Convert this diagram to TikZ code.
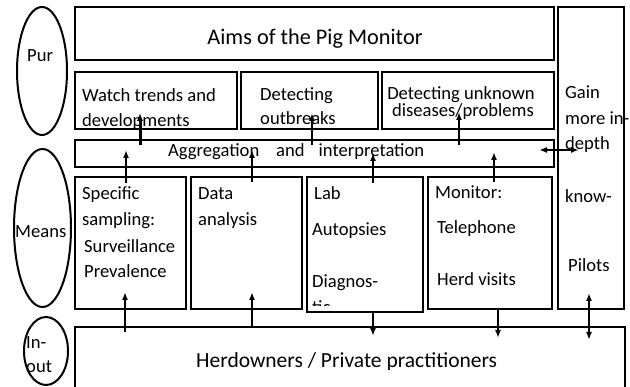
\documentclass[tikz,border=0pt]{standalone}
\usepackage{fontspec}
\setmainfont{Carlito}
\usetikzlibrary{arrows.meta,shapes.geometric}
\begin{document}
\begin{tikzpicture}[x=1pt,y=-1pt,
  box/.style={draw, line width=2.7pt, inner sep=0pt, outer sep=0pt},
  oval/.style={draw, ellipse, line width=2pt, inner sep=0pt, outer sep=0pt},
  txt/.style={inner sep=0pt, anchor=base west, font=\fontsize{18.6}{22}\selectfont},
  ctxt/.style={txt, anchor=base},
  big/.style={inner sep=0pt, anchor=base west, font=\fontsize{21.5}{26}\selectfont},
  arr/.style={line width=1.8pt, -{Latex[length=8pt,width=6pt]}},
  thickarr/.style={line width=3pt, -{Latex[length=8pt,width=6.5pt]}},
  darr/.style={line width=1.8pt, {Latex[length=8pt,width=6pt]}-{Latex[length=8pt,width=6pt]}}]
\useasboundingbox (0,0) rectangle (630,387);
\clip (0,0) rectangle (630,387);

% ---------- texts ----------
\node[big, anchor=base, font=\fontsize{22.3}{26}\selectfont] (aimst) at (315,45) {Aims of the Pig Monitor};
\begin{scope}
  \clip (75,72) rectangle (237,128.5);
  \node[txt] (w1) at (82,102) {Watch trends and};
  \node[txt] (w2) at (82,127) {developments};
\end{scope}
\node[txt] (o1) at (260,101) {Detecting};
\node[txt] (o2) at (260,125) {outbreaks};
\begin{scope}
  \clip (382,72) rectangle (554,101.5);
  \node[ctxt] (u1) at (461,100) {Detecting unknown};
\end{scope}
\node[ctxt] (u2) at (463,117) {diseases/problems};
\node[txt] (aggt) at (168,157) {Aggregation\hspace{17pt}and\hspace{14pt}interpretation};

\node[txt] (g1) at (565,99) {Gain};
\node[txt] (g2) at (565,125) {more in-};
\node[txt] (g3) at (565,150) {depth};
\node[txt] (g4) at (565,203) {know-};
\node[txt] (g5) at (568,272) {Pilots};

\node[txt] (s1) at (82,200) {Specific};
\node[txt] (s2) at (82,226) {sampling:};
\node[txt] (s3) at (84,253) {Surveillance};
\node[txt] (s4) at (84,278) {Prevalence};

\node[txt] (d1) at (198,200) {Data};
\node[txt] (d2) at (198,226) {analysis};

\node[txt] (l1) at (314,200) {Lab};
\node[txt] (l2) at (312,236) {Autopsies};
\node[txt] (l3) at (312,288) {Diagnos-};
\begin{scope}
  \clip (307,177) rectangle (423,305.5);
  \node[txt] (l4) at (312,314) {tic};
\end{scope}

\node[txt] (m1) at (435,199) {Monitor:};
\node[txt] (m2) at (437,234) {Telephone};
\node[txt] (m3) at (437,286) {Herd visits};

\begin{scope}
  \clip (75,327) rectangle (625,369.5);
  \node[big] (herdt) at (196,368) {Herdowners / Private practitioners};
\end{scope}

\node[txt] (purt) at (27,62) {Pur};
\node[txt] (meanst) at (15,238) {Means};
\node[txt] (in1) at (26,349) {In-};
\node[txt] (in2) at (26,373) {out};

% ---------- boxes ----------
\node[box, minimum width=479pt, minimum height=53pt] (aims) at (314.5,33.5) {};
\node[box, minimum width=162pt, minimum height=57pt] (watch) at (156,100.5) {};
\node[box, minimum width=137pt, minimum height=57pt] (outb) at (309.5,100.5) {};
\node[box, minimum width=172pt, minimum height=57pt] (unkn) at (468,100.5) {};
\node[box, minimum width=479pt, minimum height=27pt] (agg) at (314.5,153.5) {};
\node[box, minimum width=66pt, minimum height=302pt] (gain) at (591,158) {};
\node[box, minimum width=111pt, minimum height=132pt] (spec) at (130.5,243) {};
\node[box, minimum width=111pt, minimum height=132pt] (data) at (246.5,243) {};
\node[box, minimum width=116pt, minimum height=135pt] (lab) at (365,244.5) {};
\node[box, minimum width=124pt, minimum height=132pt] (moni) at (490,243) {};
\node[box, minimum width=550pt, minimum height=73pt] (herd) at (350,363.5) {};

% ---------- ellipses ----------
\node[oval, minimum width=50pt, minimum height=128pt] (pur) at (42,71) {};
\node[oval, minimum width=57pt, minimum height=158pt] (means) at (42.5,228) {};
\node[oval, minimum width=44pt, minimum height=68pt] (inout) at (46,351) {};

% ---------- arrow end points ----------
\coordinate (c1a) at (140,145);  \coordinate (c1b) at (140,113);
\coordinate (c2a) at (312,145);  \coordinate (c2b) at (312,113);
\coordinate (c3a) at (459,145);  \coordinate (c3b) at (459,112);
\coordinate (c4a) at (126,183);  \coordinate (c4b) at (126,150);
\coordinate (c5a) at (252,182);  \coordinate (c5b) at (252,150);
\coordinate (c6a) at (373,183);  \coordinate (c6b) at (373,153);
\coordinate (c7a) at (494,182);  \coordinate (c7b) at (494,152);
\coordinate (c8a) at (539,150);  \coordinate (c8b) at (579,150);
\coordinate (c9a) at (125,332);  \coordinate (c9b) at (125,292);
\coordinate (c10a) at (252,328); \coordinate (c10b) at (252,292);
\coordinate (c11a) at (373,312); \coordinate (c11b) at (373,336);
\coordinate (c12a) at (498,309); \coordinate (c12b) at (498,338);
\coordinate (c13a) at (589,293); \coordinate (c13b) at (589,340);

% ---------- arrows ----------
\draw[thickarr] (c1a) -- (c1b);
\draw[arr] (c2a) -- (c2b);
\draw[arr] (c3a) -- (c3b);
\draw[arr] (c4a) -- (c4b);
\draw[arr] (c5a) -- (c5b);
\draw[arr] (c6a) -- (c6b);
\draw[arr] (c7a) -- (c7b);
\draw[darr] (c8a) -- (c8b);
\draw[arr] (c9a) -- (c9b);
\draw[arr] (c10a) -- (c10b);
\draw[arr] (c11a) -- (c11b);
\draw[arr] (c12a) -- (c12b);
\draw[darr] (c13a) -- (c13b);
\end{tikzpicture}
\end{document}
